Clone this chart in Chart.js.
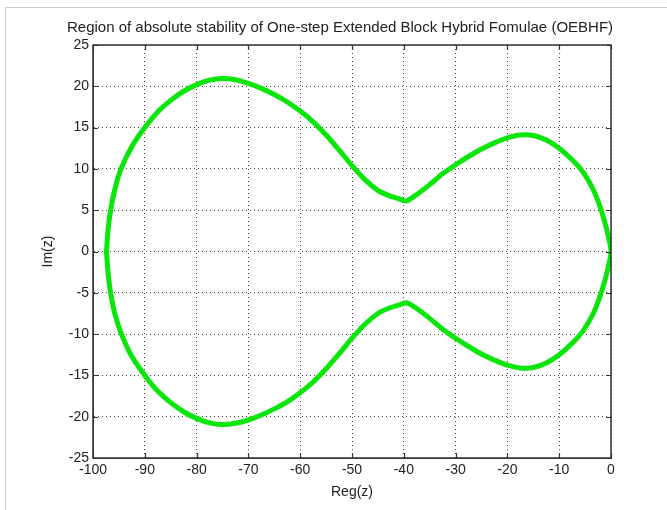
<!DOCTYPE html>
<html>
<head>
<meta charset="utf-8">
<script src="https://cdn.jsdelivr.net/npm/chart.js@4.4.1/dist/chart.umd.min.js"></script>
<style>
html,body{margin:0;padding:0;background:#fff;}
canvas{display:block;}
</style>
</head>
<body>
<canvas id="c" width="667" height="510"></canvas>
<script>
// ---- data ----
const chartTitle = "Region of absolute stability of One-step Extended Block Hybrid Fomulae (OEBHF)";
const xLabel = "Reg(z)";
const yLabel = "Im(z)";
const xTicks = [-100, -90, -80, -70, -60, -50, -40, -30, -20, -10, 0];
const yTicks = [-25, -20, -15, -10, -5, 0, 5, 10, 15, 20, 25];

// upper half of the boundary, left to right
const upperX = [-97.4, -97.1, -96.6, -95.8, -94.6, -92.6, -90.0, -87.5, -85.0, -82.5, -80.0, -77.5, -75.0, -72.5, -70.0, -67.5, -65.0, -62.5, -60.0, -57.5, -55.0, -52.5, -50.0, -47.5, -45.0, -43.0, -41.0, -39.5, -37.5, -35.0, -32.5, -30.0, -27.5, -25.0, -22.5, -20.0, -17.5, -15.0, -12.5, -10.0, -7.5, -5.5, -3.5, -2.0, -0.8, 0.0];
const upperY = [0.0, 2.5, 5.0, 7.5, 10.0, 12.6, 15.0, 16.9, 18.3, 19.4, 20.2, 20.75, 20.95, 20.8, 20.35, 19.75, 19.0, 18.1, 17.0, 15.7, 14.1, 12.3, 10.4, 8.7, 7.4, 6.8, 6.4, 6.1, 6.9, 8.1, 9.4, 10.5, 11.5, 12.4, 13.15, 13.75, 14.1, 14.05, 13.5, 12.5, 11.1, 9.7, 7.6, 5.2, 2.6, 0.0];

// lower half of the boundary, right to left
const lowerX = [0.0, -0.8, -2.0, -3.5, -5.5, -7.5, -10.0, -12.5, -15.0, -17.5, -20.0, -22.5, -25.0, -27.5, -30.0, -32.5, -35.0, -37.5, -39.5, -41.0, -43.0, -45.0, -47.5, -50.0, -52.5, -55.0, -57.5, -60.0, -62.5, -65.0, -67.5, -70.0, -72.5, -75.0, -77.5, -80.0, -82.5, -85.0, -87.5, -90.0, -92.6, -94.5, -95.8, -96.6, -97.1, -97.4];
const lowerY = [0.0, -2.6, -5.2, -7.6, -9.7, -11.1, -12.5, -13.5, -14.05, -14.1, -13.75, -13.15, -12.4, -11.5, -10.5, -9.4, -8.1, -6.9, -6.2, -6.5, -6.9, -7.5, -8.8, -10.5, -12.4, -14.2, -15.8, -17.1, -18.2, -19.05, -19.8, -20.4, -20.8, -20.95, -20.75, -20.2, -19.4, -18.3, -16.9, -15.0, -12.6, -10.0, -7.5, -5.0, -2.5, 0.0];

// ---- build points ----
const boundary = [];
for (let i = 0; i < upperX.length; i++) boundary.push({x: upperX[i], y: upperY[i]});
for (let i = 1; i < lowerX.length; i++) boundary.push({x: lowerX[i], y: lowerY[i]});

const FONT = "Liberation Sans, Arial, Helvetica, sans-serif";

const decor = {
  id: 'decor',
  beforeDraw(chart) {
    const ctx = chart.ctx;
    ctx.save();
    ctx.fillStyle = '#fff';
    ctx.fillRect(0, 0, chart.width, chart.height);
    ctx.strokeStyle = '#c8c8c8';
    ctx.lineWidth = 1;
    ctx.beginPath();
    ctx.moveTo(5.5, 510);
    ctx.lineTo(5.5, 7.5);
    ctx.lineTo(667, 7.5);
    ctx.stroke();
    ctx.restore();
  },
  afterDraw(chart) {
    const ctx = chart.ctx;
    const a = chart.chartArea;
    const xs = chart.scales.x, ys = chart.scales.y;
    ctx.save();
    ctx.strokeStyle = '#333';
    ctx.lineWidth = 1.5;
    ctx.strokeRect(a.left, a.top, a.right - a.left, a.bottom - a.top);
    ctx.lineWidth = 1.2;
    ctx.beginPath();
    const L = 5;
    xTicks.forEach(v => {
      const px = Math.round(xs.getPixelForValue(v)) + 0.5;
      ctx.moveTo(px, a.bottom); ctx.lineTo(px, a.bottom - L);
      ctx.moveTo(px, a.top); ctx.lineTo(px, a.top + L);
    });
    yTicks.forEach(v => {
      const py = Math.round(ys.getPixelForValue(v)) + 0.5;
      ctx.moveTo(a.left, py); ctx.lineTo(a.left + L, py);
      ctx.moveTo(a.right, py); ctx.lineTo(a.right - L, py);
    });
    ctx.stroke();
    ctx.fillStyle = '#222';
    ctx.textAlign = 'center';
    ctx.textBaseline = 'middle';
    ctx.font = '15px ' + FONT;
    ctx.fillText(chartTitle, 340, 28);
    ctx.font = '14px ' + FONT;
    ctx.fillText(xLabel, (a.left + a.right) / 2, 492);
    ctx.translate(48, (a.top + a.bottom) / 2);
    ctx.rotate(-Math.PI / 2);
    ctx.fillText(yLabel, 0, 0);
    ctx.restore();
  }
};

new Chart(document.getElementById('c'), {
  type: 'scatter',
  data: {
    datasets: [{
      data: boundary,
      showLine: true,
      borderColor: 'rgb(10,230,10)',
      borderWidth: 5,
      pointRadius: 0,
      tension: 0.2,
      borderJoinStyle: 'round',
      borderCapStyle: 'round',
      fill: false
    }]
  },
  options: {
    responsive: false,
    animation: false,
    devicePixelRatio: 1,
    layout: { padding: { left: 0, right: 56, top: 45, bottom: 0 } },
    plugins: { legend: { display: false }, tooltip: { enabled: false }, title: { display: false } },
    scales: {
      x: {
        type: 'linear', min: -100, max: 0,
        afterBuildTicks: s => { s.ticks = xTicks.map(v => ({value: v})); },
        afterFit: s => { s.height = 52; },
        grid: { color: '#444', lineWidth: 1, drawTicks: false },
        border: { display: true, color: '#333', width: 1, dash: [1, 3] },
        ticks: { padding: 4, color: '#222', font: { family: FONT, size: 14 }, maxRotation: 0, autoSkip: false }
      },
      y: {
        type: 'linear', min: -25, max: 25,
        afterBuildTicks: s => { s.ticks = yTicks.map(v => ({value: v})); },
        afterFit: s => { s.width = 93; },
        grid: { color: '#444', lineWidth: 1, drawTicks: false },
        border: { display: true, color: '#333', width: 1, dash: [1, 3] },
        ticks: { padding: 4, color: '#222', font: { family: FONT, size: 14 }, autoSkip: false }
      }
    }
  },
  plugins: [decor]
});
</script>
</body>
</html>
